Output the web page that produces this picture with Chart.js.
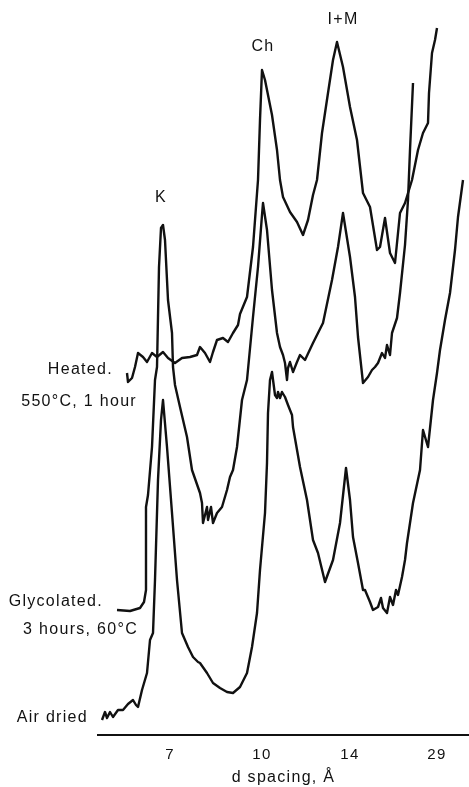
<!DOCTYPE html>
<html>
<head>
<meta charset="utf-8">
<script src="https://cdn.jsdelivr.net/npm/chart.js@4.4.1/dist/chart.umd.min.js"></script>
<style>
  html, body { margin: 0; padding: 0; background: #fff; }
  #wrap { width: 469px; height: 787px; position: relative; }
</style>
</head>
<body>
<div id="wrap"><canvas id="c"></canvas></div>
<script>
// ---- data (scan position in arbitrary chart units, relative intensity) ----
const tickPositions = [72, 164, 252, 339];
const tickLabels = ['7', '10', '14', '29'];
const axisTitle = 'd spacing, Å';

const seriesNames = [
  ['Heated.', '550°C, 1 hour'],
  ['Glycolated.', '3 hours, 60°C'],
  ['Air dried']
];

const heatedX = [29,30,34,37,40,45,49,54,59,65,70,77,84,92,99,102,107,112,115,119,125,130,135,140,142,149,155,160,162,164,167,169,174,179,182,185,192,199,205,210,215,219,224,230,235,239,245,252,259,265,272,279,282,287,292,297,302,307,314,320,325,330,331,334,337,339];
const heatedY = [362,353,357,368,382,378,373,382,378,383,377,372,377,378,380,388,382,373,383,395,397,393,402,410,421,438,488,555,615,665,655,645,620,585,555,538,523,513,500,515,540,555,602,642,675,693,668,628,595,542,528,485,488,517,482,472,522,532,555,585,602,612,642,682,695,707];

const glycolX = [19,32,42,46,48,48,50,54,57,59,61,63,65,67,70,74,75,77,82,89,94,102,104,105,109,110,113,115,119,124,129,132,135,139,144,149,155,160,164,165,169,174,179,182,185,187,189,190,192,195,199,202,207,215,225,234,240,245,252,257,260,265,270,274,277,280,284,287,289,292,294,299,302,307,310,312,315];
const glycolY = [125,124,127,133,145,228,240,288,355,368,468,507,510,495,435,402,368,350,328,298,265,242,232,212,228,215,228,212,222,228,245,258,265,288,335,355,418,468,520,532,505,445,402,388,380,372,355,367,373,363,373,380,375,392,412,455,488,522,478,438,398,352,358,365,368,372,382,377,390,380,402,417,442,490,535,585,652];

const airX = [4,7,9,12,15,20,25,30,35,38,40,44,49,52,55,57,60,63,65,69,74,79,84,90,95,100,102,109,115,122,129,135,142,149,154,159,162,167,169,170,172,174,177,179,180,182,184,187,190,194,195,202,209,215,220,227,235,242,248,252,255,260,265,267,272,275,280,283,285,289,292,295,298,300,304,307,309,315,322,325,330,335,339,342,347,352,357,360,365];
const airY = [15,23,17,23,18,25,25,31,35,30,28,45,62,95,102,155,255,315,335,288,222,155,102,88,78,73,72,62,52,47,43,42,48,62,88,122,165,222,272,322,355,363,340,337,343,337,343,338,330,320,308,268,235,195,182,153,175,212,267,235,198,172,145,145,133,125,128,137,127,122,138,130,145,140,158,175,192,232,265,305,288,335,362,385,415,442,485,518,555];

const peakNames = ['K', 'Ch', 'I+M'];
const peakX = [63, 165, 245];
const peakY = [537, 688, 715];

// ---- layout / style (not data) ----
const labelLayout = [
  { dx1: -14, dy1: -3, dx2: 10, dy2: 29 },
  { dx1: -14, dy1: -8, dx2: 21, dy2: 20 },
  { dx1: -14, dy1: -2 }
];
const FONT = '"Liberation Sans", Arial, Helvetica, sans-serif';

function pts(xs, ys) { return xs.map((x, i) => ({ x: x, y: ys[i] })); }

const textPlugin = {
  id: 'texts',
  beforeDraw(chart) { chart.ctx.letterSpacing = '1.3px'; },
  afterDatasetsDraw(chart) {
    const ctx = chart.ctx, xs = chart.scales.x, ys = chart.scales.y;
    ctx.save();
    ctx.letterSpacing = '1.3px';
    ctx.fillStyle = '#111';
    ctx.font = '16px ' + FONT;
    ctx.textBaseline = 'middle';
    // peak labels
    ctx.textAlign = 'center';
    peakNames.forEach((t, i) => {
      ctx.fillText(t, xs.getPixelForValue(peakX[i]), ys.getPixelForValue(peakY[i]));
    });
    // series labels anchored to each trace's first point
    chart.data.datasets.forEach((ds, i) => {
      const p = ds.data[0];
      const px = xs.getPixelForValue(p.x), py = ys.getPixelForValue(p.y);
      const L = labelLayout[i], names = seriesNames[i];
      ctx.textAlign = 'right';
      ctx.fillText(names[0], px + L.dx1, py + L.dy1);
      if (names[1]) ctx.fillText(names[1], px + L.dx2, py + L.dy2);
    });
    ctx.restore();
  }
};

const common = { borderColor: '#111', borderWidth: 2.4, pointRadius: 0, tension: 0, fill: false, borderJoinStyle: 'round' };

new Chart(document.getElementById('c'), {
  type: 'line',
  data: {
    datasets: [
      Object.assign({ label: seriesNames[0].join(' '), data: pts(heatedX, heatedY) }, common),
      Object.assign({ label: seriesNames[1].join(' '), data: pts(glycolX, glycolY) }, common),
      Object.assign({ label: seriesNames[2].join(' '), data: pts(airX, airY) }, common)
    ]
  },
  options: {
    responsive: true,
    maintainAspectRatio: false,
    animation: false,
    layout: { padding: { left: 98, right: 0, top: 0, bottom: 0 } },
    plugins: { legend: { display: false }, tooltip: { enabled: false } },
    scales: {
      x: {
        type: 'linear',
        min: 0,
        max: 371,
        afterBuildTicks(s) { s.ticks = tickPositions.map(v => ({ value: v })); },
        afterFit(s) { s.height = 52; },
        grid: { display: false, drawTicks: false },
        border: { display: true, color: '#111', width: 2 },
        ticks: {
          autoSkip: false, maxRotation: 0, padding: 11,
          color: '#111',
          font: { family: FONT, size: 15 },
          callback(v) { const i = tickPositions.indexOf(v); return i >= 0 ? tickLabels[i] : ''; }
        },
        title: {
          display: true, text: axisTitle, color: '#111',
          font: { family: FONT, size: 16 },
          padding: { top: 0, bottom: 0 }
        }
      },
      y: {
        type: 'linear', display: false, min: 0, max: 735
      }
    }
  },
  plugins: [textPlugin]
});
</script>
</body>
</html>
